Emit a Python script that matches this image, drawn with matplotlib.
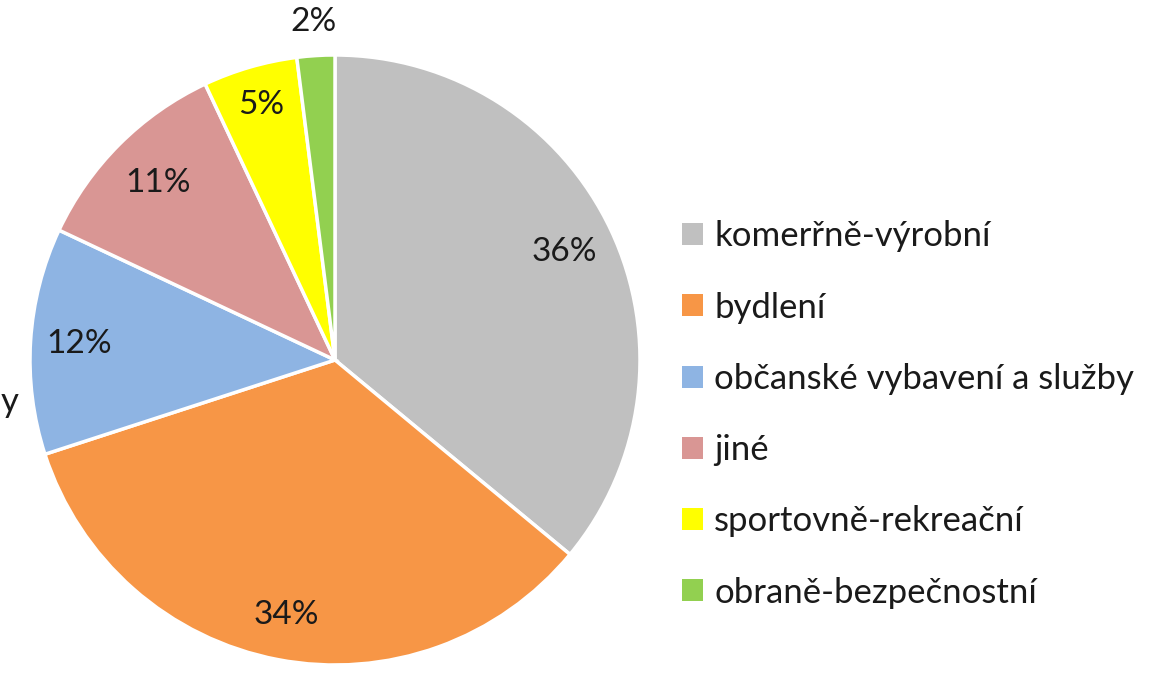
import matplotlib.pyplot as plt
import numpy as np

plt.rcParams['font.family'] = ['Lato', 'DejaVu Sans']

categories = ["komerřně-výrobní", "bydlení", "občanské vybavení a služby",
              "jiné", "sportovně-rekreační", "obraně-bezpečnostní"]
shares = [36, 34, 12, 11, 5, 2]
colors = ["#C0C0C0", "#F79646", "#8EB4E3", "#D99694", "#FFFF00", "#92D050"]

W, H = 1155, 675
fig = plt.figure(figsize=(W / 100, H / 100), dpi=100)

# pie centre ~(335, 360) px, radius ~305 px
cx, cy, r = 335, 360, 305
ax = fig.add_axes([(cx - r) / W, (H - cy - r) / H, 2 * r / W, 2 * r / H])
wedges, _ = ax.pie(shares, colors=colors, startangle=90, counterclock=False,
                   radius=1.0, wedgeprops=dict(edgecolor="white", linewidth=2.5))
ax.set_xlim(-1, 1)
ax.set_ylim(-1, 1)
ax.set_aspect("equal")

# percentage labels
label_r = [0.83, 0.85, 0.84, 0.82, 0.87, 1.11]
for w, s, lr in zip(wedges, shares, label_r):
    ang = np.deg2rad((w.theta1 + w.theta2) / 2)
    ax.text(lr * np.cos(ang), lr * np.sin(ang), f"{s}%", ha="center", va="center",
            fontsize=24, color="#1a1a1a", clip_on=False)

leg = fig.legend(wedges, categories, loc="upper left",
                 bbox_to_anchor=(665 / W, 1 - 203 / H), frameon=False,
                 fontsize=25, handlelength=0.6, handleheight=0.6,
                 handletextpad=0.32, labelspacing=1.13, borderpad=0)
for t in leg.get_texts():
    t.set_color("#1a1a1a")
for h in leg.legend_handles:
    h.set_linewidth(0)

# text fragment at the left edge (cut off in the source image)
fig.text(1 / W, 1 - 402 / H, "y", fontsize=25, ha="left", va="center", color="#1a1a1a")

fig.savefig("out.png", dpi=100)
